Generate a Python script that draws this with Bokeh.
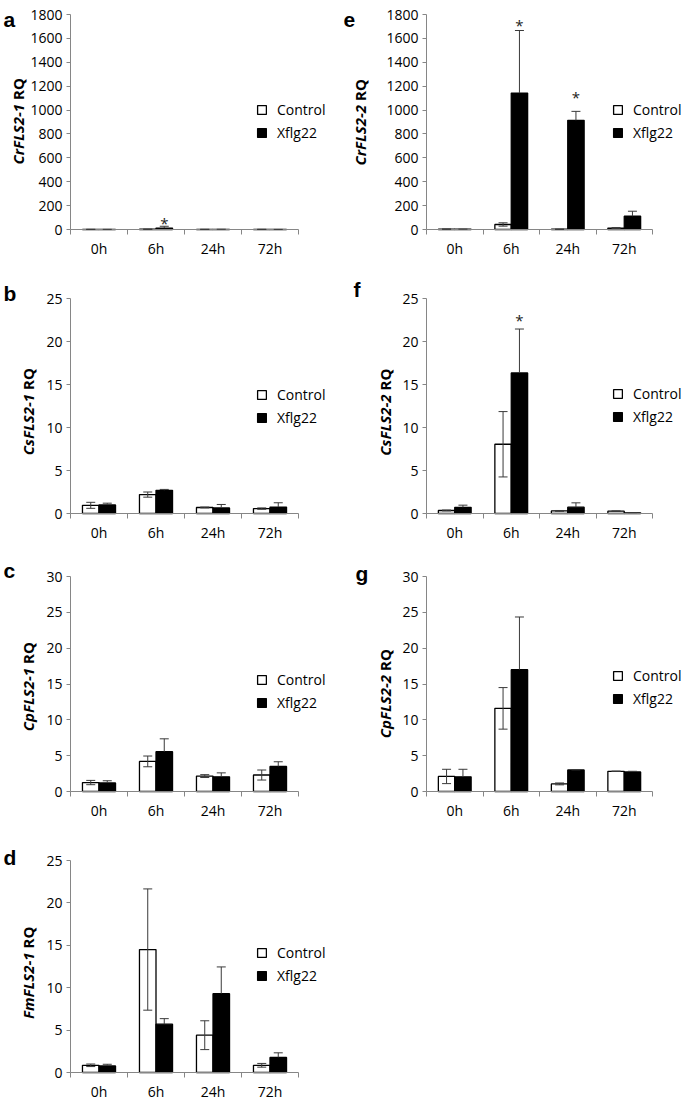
import math
from bokeh.plotting import figure
from bokeh.models import (ColumnDataSource, Range1d, LinearAxis, FixedTicker, SingleIntervalTicker,
                          Whisker, TeeHead, Legend, LegendItem, Label)
from bokeh.layouts import gridplot
from bokeh.core.properties import value
from bokeh.embed import file_html
from bokeh.resources import INLINE

# ---------------- data ----------------
categories = ["0h", "6h", "24h", "72h"]
series_names = ["Control", "Xflg22"]

# a  CrFLS2-1
a_ctrl = [1.0, 2.0, 1.0, 1.0]
a_ctrl_err = [0.3, 0.5, 0.2, 0.3]
a_xflg = [0.8, 12.0, 1.5, 0.5]
a_xflg_err = [0.3, 15.0, 0.5, 0.2]
a_star_cat = ["6h"]
a_star_y = [78]

# b  CsFLS2-1
b_ctrl = [0.95, 2.2, 0.7, 0.57]
b_ctrl_err = [0.35, 0.3, 0.05, 0.08]
b_xflg = [1.0, 2.7, 0.65, 0.75]
b_xflg_err = [0.2, 0.1, 0.4, 0.5]

# c  CpFLS2-1
c_ctrl = [1.25, 4.2, 2.15, 2.3]
c_ctrl_err = [0.3, 0.75, 0.2, 0.7]
c_xflg = [1.2, 5.55, 2.05, 3.5]
c_xflg_err = [0.3, 1.8, 0.55, 0.65]

# d  FmFLS2-1
d_ctrl = [0.85, 14.5, 4.4, 0.85]
d_ctrl_err = [0.15, 7.15, 1.7, 0.22]
d_xflg = [0.77, 5.7, 9.3, 1.78]
d_xflg_err = [0.2, 0.65, 3.15, 0.54]

# e  CrFLS2-2
e_ctrl = [3.0, 42.0, 2.0, 12.0]
e_ctrl_err = [1.0, 14.0, 1.0, 4.0]
e_xflg = [2.0, 1142.0, 914.0, 111.0]
e_xflg_err = [1.0, 524.0, 75.0, 42.0]
e_star_cat = ["6h", "24h"]
e_star_y = [1738, 1133]

# f  CsFLS2-2
f_ctrl = [0.35, 8.05, 0.3, 0.27]
f_ctrl_err = [0.05, 3.8, 0.05, 0.03]
f_xflg = [0.72, 16.35, 0.74, 0.08]
f_xflg_err = [0.25, 5.1, 0.5, 0.02]
f_star_cat = ["6h"]
f_star_y = [22.9]

# g  CpFLS2-2
g_ctrl = [2.1, 11.6, 1.06, 2.82]
g_ctrl_err = [1.0, 2.9, 0.13, 0.02]
g_xflg = [2.05, 17.0, 3.0, 2.72]
g_xflg_err = [1.05, 7.35, 0.02, 0.1]

# ---------------- layout / style ----------------
# plot-area placement inside each figure (pixels)
COLS = [dict(width=340, bl=70, br=42), dict(width=345, bl=86, br=33)]
ROWS = [dict(h=270, bt=14, bb=41), dict(h=280, bt=28, bb=37),
        dict(h=280, bt=26, bb=39), dict(h=273, bt=30, bb=31)]
BW = 0.29
AXIS_COLOR = "#868686"
ERR_COLOR = "#3a3a3a"
TXT = "#000000"
FONT = "Open Sans"


def make_panel(letter, gene, ymax, step, ctrl, ctrl_err, xflg, xflg_err,
               star_cat, star_y, col, row, ylab_dx, split_up, letter_dx, letter_up,
               leg_dx, leg_xc):
    c = COLS[col]
    r = ROWS[row]
    fw = c["width"] - c["bl"] - c["br"]
    fh = r["h"] - r["bt"] - r["bb"]
    n = len(categories)
    px_x = n / fw
    px_y = ymax / fh

    # the frame covers the whole figure; axes are pinned at 0 with bounds
    p = figure(width=c["width"], height=r["h"],
               x_range=Range1d(-c["bl"] * px_x, n + c["br"] * px_x),
               y_range=Range1d(-r["bb"] * px_y, ymax + r["bt"] * px_y),
               output_backend="svg", toolbar_location=None, min_border=0,
               x_axis_type=None, y_axis_type=None)
    p.outline_line_color = None
    p.background_fill_color = "white"
    p.border_fill_color = "white"

    xa = LinearAxis(ticker=FixedTicker(ticks=[i + 0.5 for i in range(n)],
                                       minor_ticks=[float(i) for i in range(n + 1)]),
                    major_label_overrides={i + 0.5: cat for i, cat in enumerate(categories)},
                    fixed_location=0, bounds=(0, n))
    xa.axis_line_color = AXIS_COLOR
    xa.axis_line_width = 1
    xa.major_tick_line_color = None
    xa.major_tick_out = 0
    xa.major_tick_in = 0
    xa.minor_tick_line_color = AXIS_COLOR
    xa.minor_tick_out = 5
    xa.minor_tick_in = 0
    xa.major_label_standoff = 4
    xa.major_label_text_font = FONT
    xa.major_label_text_font_size = "14px"
    xa.major_label_text_color = TXT
    p.add_layout(xa, "below")

    ya = LinearAxis(ticker=SingleIntervalTicker(interval=step, num_minor_ticks=0),
                    fixed_location=0, bounds=(0, ymax))
    ya.axis_line_color = AXIS_COLOR
    ya.major_tick_line_color = AXIS_COLOR
    ya.major_tick_out = 4
    ya.major_tick_in = 0
    ya.minor_tick_line_color = None
    ya.major_label_standoff = 4
    ya.major_label_text_font = FONT
    ya.major_label_text_font_size = "14px"
    ya.major_label_text_color = TXT
    p.add_layout(ya, "left")

    xc = [i + 0.5 - BW / 2 for i in range(n)]
    xx = [i + 0.5 + BW / 2 for i in range(n)]
    src = ColumnDataSource(dict(
        cat=categories, xc=xc, xx=xx,
        ctrl=ctrl, ctrl_lo=[v - e for v, e in zip(ctrl, ctrl_err)],
        ctrl_hi=[v + e for v, e in zip(ctrl, ctrl_err)],
        xflg=xflg, xflg_hi=[v + e for v, e in zip(xflg, xflg_err)]))

    r1 = p.vbar(x="xc", top="ctrl", bottom=0, width=BW, source=src,
                fill_color="white", line_color="black", line_width=1.3)
    r2 = p.vbar(x="xx", top="xflg", bottom=0, width=BW, source=src,
                fill_color="black", line_color="black", line_width=1.3)

    w1 = Whisker(base="xc", upper="ctrl_hi", lower="ctrl_lo", source=src,
                 line_color=ERR_COLOR, line_width=1, level="overlay",
                 upper_head=TeeHead(size=9, line_color=ERR_COLOR, line_width=1),
                 lower_head=TeeHead(size=9, line_color=ERR_COLOR, line_width=1))
    w2 = Whisker(base="xx", upper="xflg_hi", lower="xflg", source=src,
                 line_color=ERR_COLOR, line_width=1, level="overlay",
                 upper_head=TeeHead(size=9, line_color=ERR_COLOR, line_width=1),
                 lower_head=None)
    p.add_layout(w1)
    p.add_layout(w2)

    if star_cat:
        sx = [categories.index(cname) + 0.5 + BW / 2 for cname in star_cat]
        p.text(x=sx, y=star_y, text=["*"] * len(sx), text_font=value(FONT),
               text_font_size="15px", text_align="center", text_baseline="middle",
               y_offset=3, text_color="#222222")

    leg = Legend(items=[LegendItem(label=series_names[0], renderers=[r1]),
                        LegendItem(label=series_names[1], renderers=[r2])],
                 location=(c["bl"] + leg_dx, r["bb"] + leg_xc - 10),
                 glyph_width=11, glyph_height=11,
                 label_standoff=10, spacing=3, padding=0, margin=0, label_height=20,
                 border_line_color=None, background_fill_alpha=0,
                 label_text_font=FONT, label_text_font_size="14px", label_text_color=TXT)
    p.add_layout(leg)

    # y-axis title: italic gene name + upright "RQ"
    xl = ylab_dx * px_x
    ys = (fh / 2 + split_up) * px_y
    p.add_layout(Label(x=xl, y=ys, text=gene, angle=math.pi / 2, text_align="right",
                       text_baseline="middle", text_font=FONT, text_font_style="bold italic",
                       text_font_size="15px", text_color=TXT))
    p.add_layout(Label(x=xl, y=ys + 4 * px_y, text="RQ", angle=math.pi / 2, text_align="left",
                       text_baseline="middle", text_font=FONT, text_font_style="bold",
                       text_font_size="15px", text_color=TXT))

    # panel letter
    p.add_layout(Label(x=letter_dx * px_x, y=ymax + letter_up * px_y, text=letter,
                       text_align="left", text_baseline="alphabetic",
                       text_font="Liberation Sans", text_font_style="bold",
                       text_font_size="21px", text_color=TXT))
    return p


pa = make_panel("a", "CrFLS2-1", 1800, 200, a_ctrl, a_ctrl_err, a_xflg, a_xflg_err,
                a_star_cat, a_star_y, 0, 0, -53, 18, -67, -5, 186, 97)
pb = make_panel("b", "CsFLS2-1", 25, 5, b_ctrl, b_ctrl_err, b_xflg, b_xflg_err,
                [], [], 0, 1, -42.5, 12, -67, 5, 186, 96)
pc = make_panel("c", "CpFLS2-1", 30, 5, c_ctrl, c_ctrl_err, c_xflg, c_xflg_err,
                [], [], 0, 2, -42.5, 16, -67, 6, 186, 89)
pd = make_panel("d", "FmFLS2-1", 25, 5, d_ctrl, d_ctrl_err, d_xflg, d_xflg_err,
                [], [], 0, 3, -42.5, 14, -67, 3, 186, 97)
pe = make_panel("e", "CrFLS2-2", 1800, 200, e_ctrl, e_ctrl_err, e_xflg, e_xflg_err,
                e_star_cat, e_star_y, 1, 0, -67, 17, -83, -5, 186, 97)
pf = make_panel("f", "CsFLS2-2", 25, 5, f_ctrl, f_ctrl_err, f_xflg, f_xflg_err,
                f_star_cat, f_star_y, 1, 1, -42, 11.5, -73, 9, 186, 97)
pg = make_panel("g", "CpFLS2-2", 30, 5, g_ctrl, g_ctrl_err, g_xflg, g_xflg_err,
                [], [], 1, 2, -42, 9, -71, 3, 186, 93)

grid = gridplot([[pa, pe], [pb, pf], [pc, pg], [pd, None]], toolbar_location=None)

open("out.html", "w").write(file_html(grid, INLINE))
